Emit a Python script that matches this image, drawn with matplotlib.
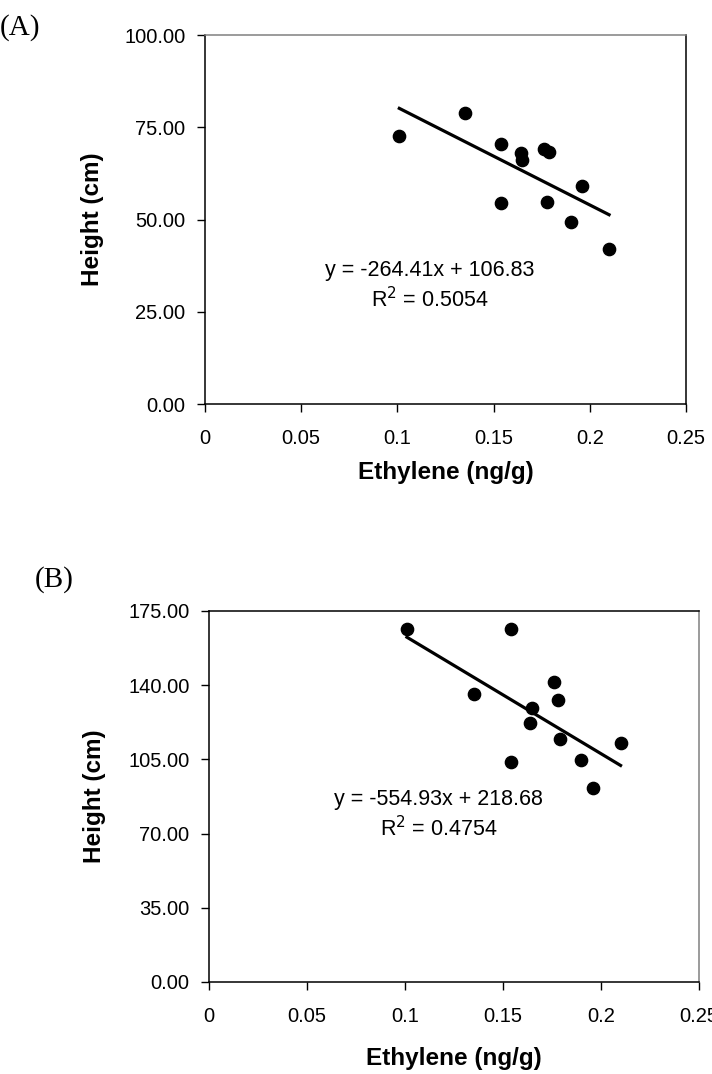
import matplotlib
matplotlib.use("Agg")
import matplotlib.pyplot as plt
from matplotlib.ticker import FixedLocator

plt.rcParams['font.family'] = ['Liberation Sans', 'DejaVu Sans']

# ethylene content per plant (ng/g) and height at two stages (cm)
ethylene = [0.101, 0.135, 0.154, 0.154, 0.164, 0.165, 0.176, 0.178, 0.179, 0.190, 0.196, 0.210]
height_a = [72.7, 78.8, 70.6, 54.4, 67.9, 66.1, 69.0, 54.8, 68.4, 49.4, 59.2, 41.9]
height_b = [166.4, 135.7, 166.4, 103.9, 122.0, 129.1, 141.7, 133.0, 114.5, 104.7, 91.4, 112.6]

# linear trendlines (slope, intercept, r squared)
fit_a = (-264.41, 106.83, 0.5054)
fit_b = (-554.93, 218.68, 0.4754)

x_ticks = [0, 0.05, 0.1, 0.15, 0.2, 0.25]
y_ticks_a = [0, 25, 50, 75, 100]
y_ticks_b = [0, 35, 70, 105, 140, 175]


def panel(ax, heights, fit, yticks, eq_pos, gray_side):
    slope, icpt, r2 = fit
    ax.scatter(ethylene, heights, s=78, color='black', zorder=3)
    xs = [min(ethylene), max(ethylene)]
    ax.plot(xs, [slope * x + icpt for x in xs], color='black', lw=2.3, zorder=2)

    ax.set_xlim(0, 0.25)
    ax.set_ylim(yticks[0], yticks[-1])
    ax.xaxis.set_major_locator(FixedLocator(x_ticks))
    ax.set_xticklabels(['{:g}'.format(t) for t in x_ticks])
    ax.yaxis.set_major_locator(FixedLocator(yticks))
    ax.set_yticklabels(['{:.2f}'.format(t) for t in yticks])
    ax.tick_params(axis='both', direction='out', length=6, width=1, labelsize=14.5)
    ax.tick_params(axis='x', pad=12)
    ax.tick_params(axis='y', pad=8)

    for side in ['left', 'bottom', 'top', 'right']:
        ax.spines[side].set_linewidth(1.1)
        ax.spines[side].set_color('black')
    ax.spines[gray_side].set_color('#808080')

    ax.set_xlabel('Ethylene (ng/g)', fontsize=17.5, fontweight='bold')
    ax.set_ylabel('Height (cm)', fontsize=17.5, fontweight='bold')
    ax.yaxis.set_label_coords(-0.21, 0.5)

    ax.text(eq_pos[0], eq_pos[1],
            'y = {:.2f}x + {:.2f}\nR$^2$ = {:.4f}'.format(slope, icpt, r2),
            transform=ax.transAxes, ha='center', va='center',
            fontsize=15.5, linespacing=1.3, multialignment='center')
    return ax


fig = plt.figure(figsize=(7.12, 10.74), dpi=100)

ax_a = fig.add_axes([0.2879, 0.6238, 0.6756, 0.3436])
panel(ax_a, height_a, fit_a, y_ticks_a, (0.468, 0.32), 'top')
ax_a.xaxis.labelpad = 9
fig.text(0.0, 0.974, '(A)', fontsize=21, family='Liberation Serif', va='center', ha='left')

ax_b = fig.add_axes([0.2935, 0.0857, 0.6882, 0.3454])
panel(ax_b, height_b, fit_b, y_ticks_b, (0.469, 0.45), 'right')
ax_b.xaxis.labelpad = 15
fig.text(0.049, 0.46, '(B)', fontsize=21, family='Liberation Serif', va='center', ha='left')

fig.savefig('out.png', dpi=100)
